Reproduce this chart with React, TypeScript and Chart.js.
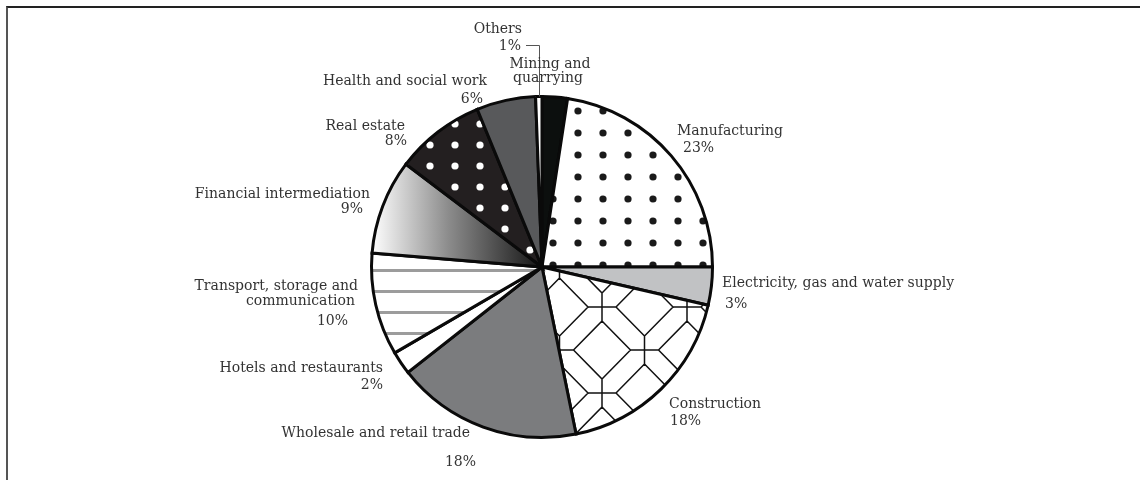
import React, { useEffect, useRef } from "react";
import { Chart, registerables } from "chart.js";

Chart.register(...registerables);

// ---------- data ----------
const categories = [
  "Mining and quarrying",
  "Manufacturing",
  "Electricity, gas and water supply",
  "Construction",
  "Wholesale and retail trade",
  "Hotels and restaurants",
  "Transport, storage and communication",
  "Financial intermediation",
  "Real estate",
  "Health and social work",
  "Others",
];
const shares = [2.4, 22.6, 3.6, 18.2, 17.6, 2.2, 9.7, 9.0, 8.5, 5.6, 0.6];
const percentLabels = ["", "23%", "3%", "18%", "18%", "2%", "10%", "9%", "8%", "6%", "1%"];
const nameLines = [
  ["Mining and", "quarrying"],
  ["Manufacturing"],
  ["Electricity, gas and water supply"],
  ["Construction"],
  ["Wholesale and retail trade"],
  ["Hotels and restaurants"],
  ["Transport, storage and", "communication"],
  ["Financial intermediation"],
  ["Real estate"],
  ["Health and social work"],
  ["Others"],
];

// ---------- layout (label offsets from pie centre: [dx, baselineDy, align]) ----------
type Pos = [number, number, CanvasTextAlign];
const labelLayout: Pos[][] = [
  [[8, -199, "center"], [6, -185, "center"]],
  [[135, -132, "left"], [141, -115, "left"]],
  [[180, 20, "left"], [183, 41, "left"]],
  [[127, 141, "left"], [128, 158, "left"]],
  [[-72, 170, "right"], [-66, 199, "right"]],
  [[-159, 105, "right"], [-159, 122, "right"]],
  [[-184, 23, "right"], [-187, 38, "right"], [-194, 58, "right"]],
  [[-172, -69, "right"], [-179, -54, "right"]],
  [[-137, -137, "right"], [-135, -122, "right"]],
  [[-55, -182, "right"], [-59, -164, "right"]],
  [[-20, -234, "right"], [-21, -217, "right"]],
];
const OTHERS_INDEX = 10;
const leaderDy = -222;
const leaderStartDx = -16;

const BORDER = 3;
const FONT = '14px "DejaVu Serif", serif';

function makeTile(w: number, h: number, draw: (c: CanvasRenderingContext2D) => void) {
  const cv = document.createElement("canvas");
  cv.width = w;
  cv.height = h;
  const c = cv.getContext("2d")!;
  draw(c);
  return c.createPattern(cv, "repeat")!;
}

function dotPattern(w: number, h: number, ox: number, oy: number, rad: number, bg: string, fg: string) {
  return makeTile(w, h, (c) => {
    c.fillStyle = bg;
    c.fillRect(0, 0, w, h);
    c.fillStyle = fg;
    for (let i = -1; i <= 1; i++)
      for (let j = -1; j <= 1; j++) {
        c.beginPath();
        c.arc(ox + i * w, oy + j * h, rad, 0, Math.PI * 2);
        c.fill();
      }
  });
}

function octagonPattern() {
  const W = 85, H = 86, hx = 42.5, hy = 43, arm = 14, ox = 7, oy = 49;
  return makeTile(W, H, (c) => {
    c.fillStyle = "#ffffff";
    c.fillRect(0, 0, W, H);
    c.strokeStyle = "#111";
    c.lineWidth = 1.5;
    c.beginPath();
    for (let i = -3; i <= 4; i++)
      for (let j = -3; j <= 4; j++) {
        if ((i + j) % 2 !== 0) continue;
        const x = ox + i * hx - W;
        const y = oy + j * hy - H;
        c.moveTo(x - arm, y);
        c.lineTo(x + arm, y);
        c.moveTo(x, y - arm);
        c.lineTo(x, y + arm);
        c.moveTo(x + arm, y);
        c.lineTo(x + hx, y + hy - arm);
        c.moveTo(x + arm, y);
        c.lineTo(x + hx, y - hy + arm);
        c.moveTo(x - arm, y);
        c.lineTo(x - hx, y + hy - arm);
        c.moveTo(x - arm, y);
        c.lineTo(x - hx, y - hy + arm);
      }
    c.stroke();
  });
}

function stripePattern() {
  return makeTile(8, 21, (c) => {
    c.fillStyle = "#ffffff";
    c.fillRect(0, 0, 8, 21);
    c.fillStyle = "#9c9c9c";
    c.fillRect(0, 17, 8, 3);
  });
}

const labelPlugin = {
  id: "sliceLabels",
  afterDatasetsDraw(chart: any) {
    const meta = chart.getDatasetMeta(0);
    const first = meta.data[0];
    if (!first) return;
    const cx = first.x;
    const cy = first.y;
    const r = first.outerRadius;
    const ctx: CanvasRenderingContext2D = chart.ctx;
    ctx.save();
    const el = meta.data[OTHERS_INDEX];
    const mid = (el.startAngle + el.endAngle) / 2;
    const ax = cx + Math.cos(mid) * r;
    const ay = cy + Math.sin(mid) * r;
    ctx.strokeStyle = "#555";
    ctx.lineWidth = 1;
    ctx.beginPath();
    ctx.moveTo(cx + leaderStartDx, cy + leaderDy + 0.5);
    ctx.lineTo(Math.round(ax) + 0.5, cy + leaderDy + 0.5);
    ctx.lineTo(Math.round(ax) + 0.5, ay);
    ctx.stroke();

    ctx.font = FONT;
    ctx.fillStyle = "#333";
    ctx.textBaseline = "alphabetic";
    categories.forEach((_, i) => {
      const lines = [...nameLines[i]];
      if (percentLabels[i]) lines.push(percentLabels[i]);
      lines.forEach((t, k) => {
        const p = labelLayout[i][k];
        if (!p) return;
        ctx.textAlign = p[2];
        ctx.fillText(t, cx + p[0], cy + p[1]);
      });
    });
    ctx.restore();
  },
};

export default function App() {
  const ref = useRef<HTMLCanvasElement>(null);
  useEffect(() => {
    if (!ref.current) return;
    const staticFills: any[] = [
      "#0c0f0e",
      dotPattern(25, 22, 3, 1, 3.6, "#ffffff", "#1a1a1a"),
      "#c1c2c4",
      octagonPattern(),
      "#7b7c7e",
      "#ffffff",
      stripePattern(),
      null,
      dotPattern(25, 21, 5, 19, 3.6, "#231f20", "#ffffff"),
      "#58595b",
      "#ffffff",
    ];
    const fill = (c: any) => {
      const i = c.dataIndex;
      if (i !== 7) return staticFills[i];
      const area = c.chart.chartArea;
      if (!area) return "#888";
      const cx = (area.left + area.right) / 2;
      const r = (Math.min(area.right - area.left, area.bottom - area.top) - BORDER) / 2;
      const g = c.chart.ctx.createLinearGradient(cx - r, 0, cx, 0);
      g.addColorStop(0, "#ffffff");
      g.addColorStop(0.45, "#8c8c8c");
      g.addColorStop(1, "#141414");
      return g;
    };
    const chart = new Chart(ref.current, {
      type: "pie",
      data: {
        labels: categories,
        datasets: [
          {
            data: shares,
            backgroundColor: fill,
            borderColor: "#0a0a0a",
            borderWidth: BORDER,
            borderJoinStyle: "miter",
          } as any,
        ],
      },
      options: {
        responsive: false,
        animation: false,
        devicePixelRatio: 1,
        layout: { padding: { top: 95, bottom: 41, left: 0, right: 56 } },
        plugins: { legend: { display: false }, tooltip: { enabled: false } },
      },
      plugins: [labelPlugin],
    });
    return () => chart.destroy();
  }, []);
  return (
    <div style={{ position: "absolute", left: 0, top: 0, width: 1140, height: 480, background: "#fff", overflow: "hidden" }}>
      <div
        style={{
          position: "absolute",
          left: 6,
          top: 6,
          width: 1140,
          height: 480,
          borderTop: "2px solid #222",
          borderLeft: "2px solid #555",
          boxSizing: "border-box",
        }}
      />
      <canvas ref={ref} width={1140} height={480} style={{ position: "absolute", left: 0, top: 0 }} />
    </div>
  );
}
